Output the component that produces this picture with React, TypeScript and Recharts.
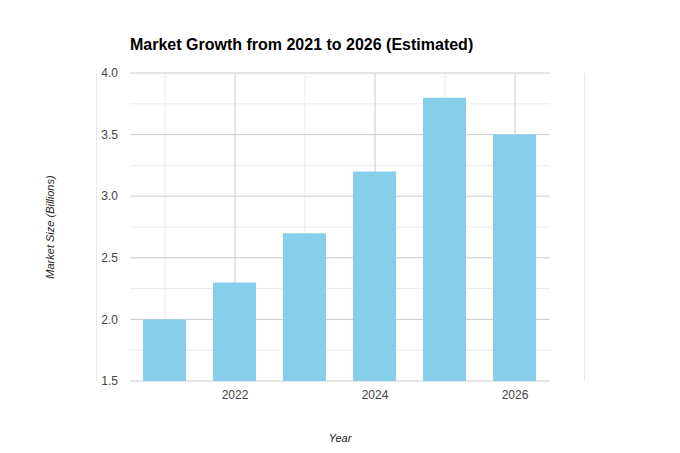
import React from 'react';
import { BarChart, Bar, XAxis, YAxis, CartesianGrid } from 'recharts';

const years = [2021, 2022, 2023, 2024, 2025, 2026];
const marketSize = [2.0, 2.3, 2.7, 3.2, 3.8, 3.5];
const xTicks = [2022, 2024, 2026];
const yTicks = [1.5, 2.0, 2.5, 3.0, 3.5, 4.0];
const xMajorGrid = [2022, 2024, 2026];
const xMinorGrid = [2021, 2023, 2025];
const yMinorGrid = [1.75, 2.25, 2.75, 3.25, 3.75];

const data = years.map((y, i) => ({ year: y, value: marketSize[i] }));

const font = '"Liberation Sans", Arial, Helvetica, sans-serif';

export default function App() {
  return (
    <div style={{ position: 'absolute', left: 0, top: 0, width: 680, height: 453, background: '#fff', fontFamily: font }}>
      <div style={{ position: 'absolute', left: 130, top: 35, fontSize: 16, fontWeight: 'bold', color: '#000', lineHeight: '20px', whiteSpace: 'nowrap' }}>
        Market Growth from 2021 to 2026 (Estimated)
      </div>
      <div style={{ position: 'absolute', left: 96, top: 73, width: 1, height: 308, background: '#e8e8e8' }} />
      <div style={{ position: 'absolute', left: 584, top: 73, width: 1, height: 308, background: '#e8e8e8' }} />
      <div style={{ position: 'absolute', left: 0, top: 0 }}>
        <BarChart width={680} height={453} data={data} margin={{ top: 73, right: 130, bottom: 12, left: 10 }}>
          <CartesianGrid horizontalValues={yMinorGrid} verticalValues={xMinorGrid} stroke="#ebebeb" strokeWidth={1} />
          <CartesianGrid horizontalValues={yTicks} verticalValues={xMajorGrid} stroke="#cccccc" strokeWidth={1} />
          <XAxis
            dataKey="year"
            type="number"
            domain={[2020.5, 2026.5]}
            ticks={xTicks}
            allowDataOverflow
            axisLine={false}
            tickLine={false}
            tickSize={0}
            tickMargin={9}
            height={60}
            tick={{ fontSize: 12, fill: '#444', fontFamily: font }}
            label={{ value: 'Year', position: 'center', dy: 27, fontSize: 11, fontStyle: 'italic', fill: '#222', fontFamily: font }}
          />
          <YAxis
            type="number"
            domain={[1.5, 4]}
            ticks={yTicks}
            allowDataOverflow
            axisLine={false}
            tickLine={false}
            tickSize={0}
            tickMargin={12}
            width={120}
            tickFormatter={(v: number) => v.toFixed(1)}
            tick={{ fontSize: 12, fill: '#444', fontFamily: font }}
            label={{ value: 'Market Size (Billions)', angle: -90, position: 'center', dx: -20, fontSize: 11, fontStyle: 'italic', fill: '#222', fontFamily: font }}
          />
          <Bar dataKey="value" fill="#87CEEB" barSize={43} isAnimationActive={false} />
        </BarChart>
      </div>
    </div>
  );
}
